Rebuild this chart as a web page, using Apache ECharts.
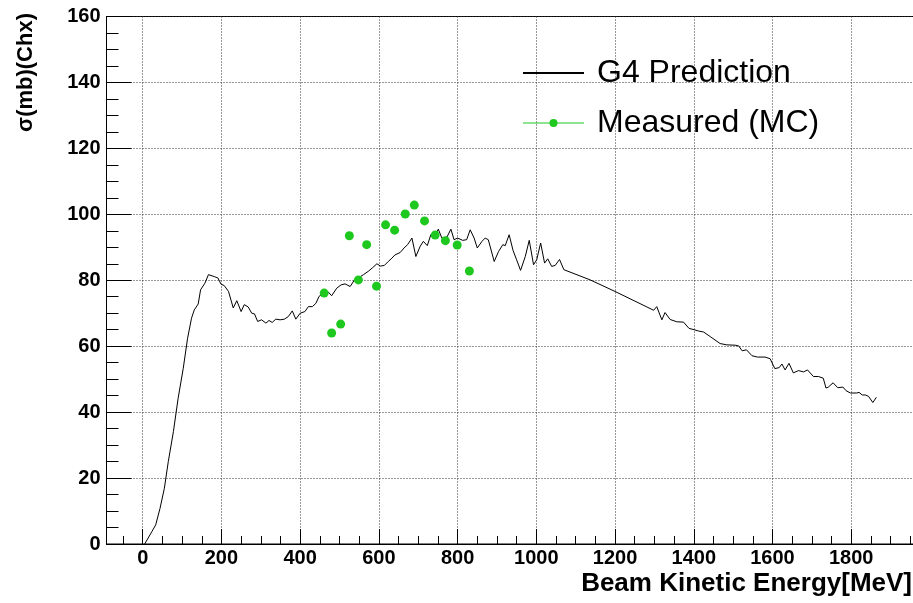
<!DOCTYPE html>
<html>
<head>
<meta charset="utf-8">
<script src="https://cdn.jsdelivr.net/npm/echarts@6/dist/echarts.min.js"></script>
<style>
html,body{margin:0;padding:0;background:#fff;}
#chart{width:913px;height:603px;}
</style>
</head>
<body>
<div id="chart"></div>
<script>
// ---- data ----
const g4Energy = [5,23,33,44,55,65,78,90,103,114,124,131,141,147,158,167,182,191,199,207,218,230,239,250,258,268,277,284,292,302,313,321,329,338,349,360,370,380,389,400,412,421,431,440,448,459,470,480,493,504,514,527,538,548,561,573,584,595,604,614,624,633,641,654,664,673,684,694,705,713,723,732,740,751,760,773,783,791,800,813,823,832,842,850,862,870,878,893,904,915,921,931,941,950,960,972,982,993,1001,1011,1021,1029,1039,1048,1059,1070,1137,1200,1281,1298,1306,1319,1327,1340,1357,1374,1388,1401,1412,1425,1442,1467,1484,1505,1514,1523,1534,1548,1562,1581,1594,1606,1617,1624,1632,1642,1653,1666,1679,1689,1704,1717,1729,1736,1742,1754,1766,1779,1787,1798,1814,1820,1828,1836,1844,1855,1864];
const g4Sigma = [0,3.7,5.8,10.8,16.9,25,34.1,44.2,53.3,62.4,68.5,71,72.8,77.1,79.1,81.7,81.1,80.7,78.8,78.4,76.6,71.6,73.8,70.5,72.6,71.9,70,69.8,67.5,68,67,67.8,67.2,68.2,68,68.2,69,70.7,68.2,70,70.5,72,72,73,75.1,76.1,76.6,75.3,77.6,78.6,78.9,78.1,80.1,80.7,81.7,82.7,83.8,85,84.3,84.5,85.7,86.7,87.7,88.4,89.8,90.8,92.8,87.2,90.3,91.8,90.5,93.8,92.8,95.5,92.8,93.1,95.5,92.3,92.8,92.1,92.3,95.3,92.8,89.8,91.8,92.8,92.3,85.7,88.7,90.8,90.5,93.8,89,86.2,83,87.2,92.1,84.7,86.2,91.3,85.2,86.5,84.2,84.5,86.3,83.2,80.1,76.6,71.9,70.9,72,68,70.2,68.1,67.4,67.3,65.4,65,64.6,64.3,62.9,60.8,60.4,60.3,60.1,58.6,58.9,57.1,56.7,56.7,56.2,53.2,53.5,54.6,52.8,54.8,51.9,52.6,52.2,52.8,50.8,50.8,50.3,47.3,47.6,48.9,47.4,47.6,46.5,45.8,45.8,46,45.2,45.2,44.8,42.9,44.5];

const mcEnergy = [461,480,503,525,548,569,594,617,640,667,690,716,743,769,799,830];
const mcSigma  = [76.1,64.0,66.7,93.5,80.1,90.8,78.2,96.8,95.2,100.1,102.8,98.0,93.7,92.0,90.7,82.8];

const xLabelValues = [0,200,400,600,800,1000,1200,1400,1600,1800];
const xMinorValues = [-50,50,100,150,250,300,350,450,500,550,650,700,750,850,900,950,1050,1100,1150,1250,1300,1350,1450,1500,1550,1650,1700,1750,1850,1900,1950];

const seriesNames = ['G4 Prediction', 'Measured (MC)'];
const xTitle = 'Beam Kinetic Energy[MeV]';
const yTitle = 'σ(mb)(Chx)';

// ---- chart ----
const boldFont = "'Liberation Sans', Arial, sans-serif";
const regFont = "'Liberation Sans', Arial, sans-serif";
const green = '#1ec81e';
const gridColor = '#333';

const chart = echarts.init(document.getElementById('chart'), null, {renderer: 'canvas'});

const g4Data = g4Energy.map((e, i) => [e, g4Sigma[i]]);
const mcData = mcEnergy.map((e, i) => [e, mcSigma[i]]);
const plain = v => String(v);

const option = {
  animation: false,
  backgroundColor: '#fff',
  grid: {
    left: 106.5, top: 16.5, width: 812, height: 527.5,
    show: true, borderColor: '#000', borderWidth: 1, backgroundColor: 'transparent',
    containLabel: false, outerBoundsMode: 'none'
  },
  legend: {
    orient: 'vertical',
    left: 517, top: 52,
    itemWidth: 61, itemHeight: 10, itemGap: 18,
    selectedMode: false,
    textStyle: {fontFamily: regFont, fontSize: 32, color: '#000', lineHeight: 30, padding: [0, 0, 0, 8]},
    data: [
      {name: seriesNames[0], itemStyle: {opacity: 0}, lineStyle: {width: 2, color: '#000', opacity: 1}},
      {name: seriesNames[1], itemStyle: {color: green, opacity: 1}, lineStyle: {width: 1, color: green, opacity: 1}}
    ]
  },
  xAxis: [
    {
      type: 'value', min: -92, max: 1971, position: 'bottom',
      name: xTitle, nameLocation: 'end', nameGap: -6.5, nameMoveOverlap: false,
      nameTextStyle: {fontFamily: boldFont, fontWeight: 'bold', fontSize: 26, color: '#000', align: 'right', verticalAlign: 'top', lineHeight: 80},
      axisLine: {show: true, onZero: false, lineStyle: {color: '#000', width: 1}},
      axisTick: {show: true, inside: true, length: 15, customValues: xLabelValues, lineStyle: {color: '#000'}},
      axisLabel: {show: true, customValues: xLabelValues, formatter: plain, margin: 4, fontFamily: boldFont, fontWeight: 'bold', fontSize: 20, color: '#000'},
      splitLine: {show: true, lineStyle: {color: gridColor, type: [1, 2], width: 1}}
    },
    {
      type: 'value', min: -92, max: 1971, position: 'bottom', gridIndex: 0,
      axisLine: {show: false},
      axisTick: {show: true, inside: true, length: 8, customValues: xMinorValues, lineStyle: {color: '#000'}},
      axisLabel: {show: false},
      splitLine: {show: false}
    }
  ],
  yAxis: {
    type: 'value', min: 0, max: 160, interval: 20,
    name: yTitle, nameLocation: 'end', nameGap: 3.5, nameRotate: 90, nameMoveOverlap: false,
    nameTextStyle: {fontFamily: regFont, fontWeight: 'bold', fontSize: 22, color: '#000', align: 'right', verticalAlign: 'bottom', lineHeight: 161},
    axisLine: {show: true, onZero: false, lineStyle: {color: '#000', width: 1}},
    axisTick: {show: true, inside: true, length: 25, lineStyle: {color: '#000'}},
    minorTick: {show: true, splitNumber: 4, length: 12, lineStyle: {color: '#000'}},
    axisLabel: {margin: 6, formatter: plain, fontFamily: boldFont, fontWeight: 'bold', fontSize: 20, color: '#000'},
    splitLine: {show: true, lineStyle: {color: gridColor, type: [1, 2], width: 1}}
  },
  series: [
    {
      name: seriesNames[0], type: 'line', xAxisIndex: 0, yAxisIndex: 0,
      data: g4Data, showSymbol: false, symbol: 'none',
      lineStyle: {color: '#000', width: 1}, itemStyle: {color: '#000'}, z: 2
    },
    {
      name: seriesNames[1], type: 'line', xAxisIndex: 0, yAxisIndex: 0,
      data: mcData, symbol: 'circle', symbolSize: 9, showSymbol: true,
      lineStyle: {width: 0, opacity: 0}, itemStyle: {color: green}, z: 3
    }
  ]
};
chart.setOption(option);
</script>
</body>
</html>
